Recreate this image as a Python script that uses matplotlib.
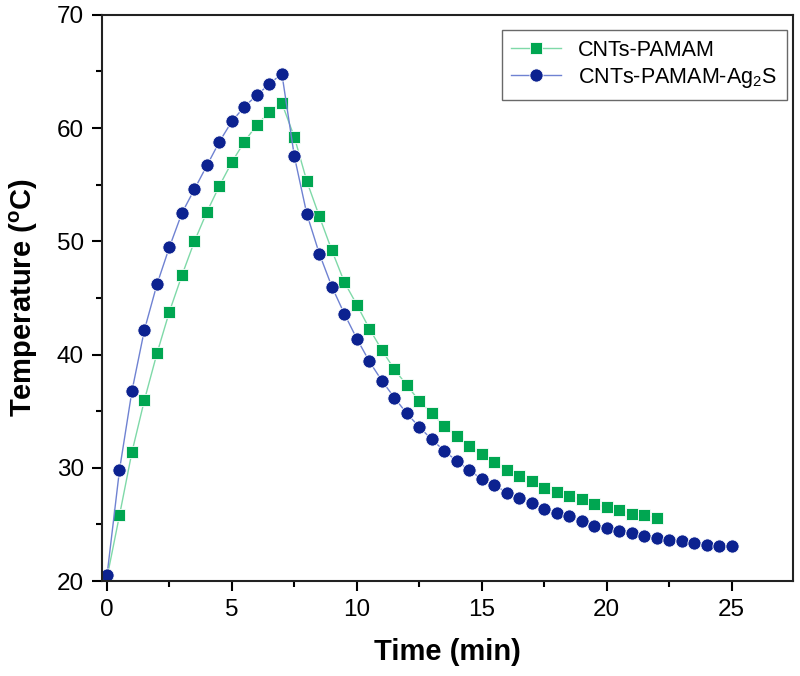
import matplotlib
matplotlib.use('Agg')
import matplotlib.pyplot as plt
from matplotlib.ticker import MultipleLocator

plt.rcParams['font.family'] = ['Liberation Sans', 'DejaVu Sans']
plt.rcParams['mathtext.fontset'] = 'custom'
plt.rcParams['mathtext.rm'] = 'Liberation Sans'
plt.rcParams['mathtext.bf'] = 'Liberation Sans:bold'

# time in minutes, sampled every 0.5 min
time_pamam = [i * 0.5 for i in range(45)]      # 0 .. 22
time_ag2s = [i * 0.5 for i in range(51)]       # 0 .. 25

temp_pamam = [20.3, 25.8, 31.4, 36.0, 40.1, 43.8, 47.0, 50.0, 52.6, 54.9,
              57.0, 58.8, 60.3, 61.4, 62.2, 59.2, 55.3, 52.2, 49.2, 46.4,
              44.4, 42.3, 40.4, 38.7, 37.3, 35.9, 34.8, 33.7, 32.8, 31.9,
              31.2, 30.5, 29.8, 29.3, 28.8, 28.2, 27.9, 27.5, 27.2, 26.8,
              26.5, 26.3, 25.9, 25.8, 25.6]

temp_ag2s = [20.5, 29.8, 36.8, 42.2, 46.2, 49.5, 52.5, 54.6, 56.7, 58.8,
             60.6, 61.9, 62.9, 63.9, 64.8, 57.5, 52.4, 48.9, 46.0, 43.6,
             41.4, 39.4, 37.7, 36.2, 34.8, 33.6, 32.5, 31.5, 30.6, 29.8,
             29.0, 28.5, 27.8, 27.3, 26.9, 26.4, 26.0, 25.7, 25.3, 24.9,
             24.7, 24.4, 24.2, 24.0, 23.8, 23.6, 23.5, 23.4, 23.2, 23.1, 23.1]

fig = plt.figure(figsize=(8, 6.76), dpi=100)
ax = fig.add_axes([0.1275, 0.1405, 0.8635, 0.8375])

ax.plot(time_pamam, temp_pamam, color='#7fd9a8', lw=1.0, marker='s', ms=9,
        mfc='#00a651', mec='white', mew=0.6, label='CNTs-PAMAM')
ax.plot(time_ag2s, temp_ag2s, color='#6f82d2', lw=1.0, marker='o', ms=9.5,
        mfc='#0c2290', mec='white', mew=0.6, label='CNTs-PAMAM-Ag$_2$S')

ax.set_xlim(-0.2, 27.45)
ax.set_ylim(20, 70)
ax.xaxis.set_major_locator(MultipleLocator(5))
ax.xaxis.set_minor_locator(MultipleLocator(2.5))
ax.yaxis.set_major_locator(MultipleLocator(10))
ax.yaxis.set_minor_locator(MultipleLocator(5))
ax.tick_params(which='major', direction='out', length=7, width=1.5, labelsize=17.5, pad=6)
ax.tick_params(which='minor', direction='out', length=4, width=1.5)
for s in ax.spines.values():
    s.set_linewidth(1.5)
    s.set_color('#222222')

ax.set_xlabel('Time (min)', fontsize=21, fontweight='bold', labelpad=12)
ax.set_ylabel(r'Temperature ($\mathbf{^{o}}$C)', fontsize=21, fontweight='bold', labelpad=12)

leg = ax.legend(loc='upper right', fontsize=15.5, frameon=True, fancybox=False,
                edgecolor='#444444', handlelength=2.3, borderpad=0.45,
                labelspacing=0.25, borderaxespad=0,
                bbox_to_anchor=(0.991, 0.9735))
leg.get_frame().set_linewidth(1.0)

fig.savefig('out.png', dpi=100)
